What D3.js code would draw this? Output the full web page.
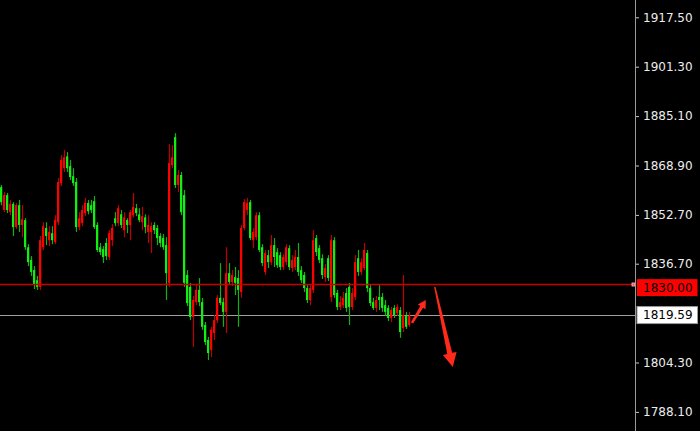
<!DOCTYPE html>
<html>
<head>
<meta charset="utf-8">
<script src="https://cdn.jsdelivr.net/npm/d3@7/dist/d3.min.js"></script>
<style>
html,body{margin:0;padding:0;background:#000;}
svg{display:block;}
</style>
</head>
<body>
<svg id="chart" width="700" height="431"></svg>
<script>
// ---- data ----
const open = [1861.8,1854.3,1859.2,1853.6,1856.3,1848.7,1855.9,1849.4,1851.0,1842.1,
1837.9,1834.6,1831.3,1829.1,1842.1,1848.4,1844.4,1846.7,1843.8,1850.3,
1863.1,1868.0,1871.9,1868.7,1865.4,1863.5,1848.7,1850.0,1853.3,1856.6,
1855.9,1857.2,1849.4,1842.1,1841.5,1843.5,1838.9,1844.4,1851.6,1850.0,
1852.9,1847.7,1851.0,1849.4,1852.6,1854.9,1852.9,1850.3,1851.9,1847.1,
1847.1,1849.4,1848.4,1845.8,1845.1,1842.8,1830.4,1869.0,1878.2,1862.5,
1865.8,1859.2,1833.0,1829.1,1819.2,1824.1,1828.1,1824.1,1816.6,1811.7,
1808.4,1814.0,1818.2,1825.5,1824.1,1820.9,1833.6,1830.7,1832.3,1832.0,
1827.4,1848.4,1854.3,1856.9,1844.4,1845.4,1852.6,1842.1,1834.0,1839.5,
1837.2,1842.8,1840.5,1839.5,1835.6,1837.2,1841.8,1835.3,1835.6,1838.9,
1834.6,1833.0,1828.7,1824.8,1828.1,1845.1,1841.8,1838.5,1832.3,1838.5,
1825.8,1844.4,1827.1,1822.5,1823.1,1827.1,1829.1,1822.5,1825.8,1838.5,
1834.0,1835.3,1840.2,1828.7,1824.1,1822.2,1825.8,1825.8,1823.1,1822.2,
1818.9,1822.2,1820.5,1821.5,1815.6,1819.9,1816.6];
const high = [1862.5,1860.2,1859.9,1857.6,1856.9,1856.6,1857.6,1855.9,1851.6,1843.1,
1839.2,1835.9,1832.7,1845.8,1850.3,1850.3,1849.0,1849.0,1852.6,1864.8,
1872.3,1874.0,1873.3,1870.7,1868.0,1864.8,1853.6,1855.9,1858.3,1857.6,
1857.6,1858.9,1850.3,1843.5,1842.5,1845.1,1847.7,1849.7,1853.6,1855.9,
1854.3,1853.6,1851.6,1854.3,1859.9,1856.3,1854.9,1855.3,1852.9,1852.6,
1850.3,1850.3,1849.4,1846.7,1846.4,1845.4,1875.9,1875.6,1879.5,1867.4,
1866.8,1860.9,1834.6,1830.4,1826.1,1829.7,1832.0,1825.5,1817.6,1812.7,
1816.0,1819.9,1826.4,1836.9,1825.5,1842.1,1836.9,1834.6,1835.6,1834.6,
1849.4,1857.9,1858.3,1857.6,1848.4,1853.6,1853.6,1843.1,1841.2,1841.2,
1846.1,1845.1,1841.8,1840.5,1839.8,1843.1,1842.8,1839.5,1841.2,1843.5,
1835.9,1834.0,1829.7,1829.7,1847.7,1846.1,1842.8,1839.8,1836.6,1839.5,
1846.1,1845.4,1828.1,1826.1,1827.4,1828.7,1830.4,1828.7,1839.5,1841.2,
1838.5,1843.5,1841.2,1829.7,1825.5,1826.1,1829.7,1827.1,1824.8,1823.1,
1822.5,1823.1,1823.4,1822.5,1833.0,1820.9,1820.9];
const low = [1855.9,1853.6,1853.3,1852.6,1845.8,1848.1,1847.1,1845.4,1841.2,1835.9,
1832.7,1828.4,1828.1,1828.1,1841.2,1842.8,1842.5,1843.1,1843.1,1849.4,
1862.2,1866.8,1866.8,1864.1,1862.2,1847.1,1847.7,1849.0,1852.3,1852.9,
1853.3,1848.1,1840.5,1839.5,1836.9,1837.9,1837.9,1842.5,1849.0,1849.0,
1848.4,1845.4,1846.7,1844.4,1851.9,1852.3,1850.3,1847.7,1846.7,1843.5,
1840.2,1846.4,1842.8,1842.1,1841.2,1824.8,1829.1,1868.0,1861.5,1860.2,
1852.6,1829.1,1822.8,1818.2,1809.4,1823.1,1822.8,1815.0,1810.0,1805.1,
1806.1,1811.7,1817.3,1823.1,1816.0,1814.0,1829.7,1829.4,1826.4,1816.0,
1825.5,1847.7,1852.6,1844.4,1841.8,1844.4,1840.5,1835.9,1833.0,1835.3,
1836.2,1835.6,1835.3,1834.6,1834.6,1836.2,1834.6,1834.0,1834.6,1832.7,
1830.4,1827.4,1823.8,1823.1,1827.1,1839.2,1836.9,1831.7,1830.7,1831.0,
1824.1,1825.5,1821.5,1821.5,1822.2,1820.9,1816.6,1821.5,1824.8,1832.7,
1833.0,1834.6,1827.4,1822.8,1821.5,1820.9,1821.5,1820.9,1819.6,1817.9,
1817.6,1818.9,1819.6,1812.4,1814.3,1815.3,1816.0];
const close = [1856.9,1859.2,1854.3,1856.3,1848.7,1855.9,1849.4,1851.3,1842.1,1837.2,
1834.0,1829.7,1829.1,1844.4,1849.0,1845.8,1847.1,1844.4,1851.0,1863.5,
1870.7,1871.6,1868.0,1865.1,1863.1,1848.7,1851.6,1854.3,1856.6,1853.9,
1854.3,1848.7,1841.2,1840.5,1838.9,1839.2,1846.7,1848.4,1850.0,1854.9,
1849.4,1851.9,1849.4,1853.6,1855.3,1853.3,1851.0,1852.3,1848.7,1849.4,
1849.0,1847.7,1845.1,1843.5,1842.1,1833.6,1869.7,1871.6,1862.5,1865.8,
1853.6,1830.4,1823.8,1819.2,1824.8,1828.1,1824.1,1816.0,1811.0,1807.4,
1815.0,1818.2,1825.5,1823.8,1820.9,1833.6,1830.7,1833.0,1830.4,1828.1,
1848.4,1856.9,1856.6,1845.1,1847.1,1852.6,1841.2,1836.9,1840.2,1837.2,
1842.8,1838.9,1836.2,1835.6,1838.9,1842.1,1835.6,1837.9,1838.9,1834.0,
1831.3,1828.7,1824.8,1828.7,1844.4,1840.5,1837.9,1833.0,1835.3,1832.0,
1844.4,1826.4,1822.5,1824.1,1825.5,1822.2,1822.5,1827.1,1837.2,1834.0,
1837.2,1841.2,1828.7,1823.8,1822.2,1824.8,1824.8,1822.2,1820.9,1818.9,
1821.5,1819.9,1822.5,1814.3,1819.9,1816.0,1819.59];

const tickValues = [1917.50, 1901.30, 1885.10, 1868.90, 1852.70, 1836.70, 1804.30, 1788.10];
const levelPrice = 1830.00;    // red horizontal level
const lastPrice = 1819.59;     // current price line
// annotation arrows in (bar index, price)
const arrowUp = [[137.0, 1817.3], [141.6, 1824.8]];
const arrowDown = [[144.6, 1829.1], [150.6, 1802.8]];

// ---- layout ----
const W = 700, H = 431, axisX = 635.5;
const svg = d3.select('#chart');
svg.append('rect').attr('width', W).attr('height', H).attr('fill', '#000');

const n = close.length;
const bars = d3.range(n).map(i => ({i, o: open[i], h: high[i], l: low[i], c: close[i]}));

const x = d3.scaleLinear().domain([0, n - 1]).range([1, 1 + 3 * (n - 1)]);
const y = d3.scaleLinear().domain([1917.5, 1788.1]).range([17.3, 411.9]);

const UP_BODY = '#ff0000', UP_WICK = '#c00000';
const DN_BODY = '#10f010', DN_WICK = '#14b014';

// current price line
svg.append('line')
  .attr('x1', 0).attr('x2', axisX)
  .attr('y1', Math.round(y(lastPrice)) - 0.5).attr('y2', Math.round(y(lastPrice)) - 0.5)
  .attr('stroke', '#a0a0a0').attr('stroke-width', 1.2);

// candles
const g = svg.append('g');
g.selectAll('rect.wick').data(bars).join('rect')
  .attr('class', 'wick')
  .attr('x', d => x(d.i) - 0.1)
  .attr('width', 1.2)
  .attr('y', d => y(d.h))
  .attr('height', d => Math.max(1, y(d.l) - y(d.h)))
  .attr('fill', d => d.c >= d.o ? UP_WICK : DN_WICK);

g.selectAll('rect.body').data(bars).join('rect')
  .attr('class', 'body')
  .attr('x', d => x(d.i) - 1)
  .attr('width', 2.2)
  .attr('y', d => y(Math.max(d.o, d.c)))
  .attr('height', d => Math.max(1, Math.abs(y(d.o) - y(d.c))))
  .attr('fill', d => d.c >= d.o ? UP_BODY : DN_BODY);

// red level line
const ly = Math.round(y(levelPrice)) + 0.5;
svg.append('line')
  .attr('x1', 0).attr('x2', axisX - 3)
  .attr('y1', ly).attr('y2', ly)
  .attr('stroke', '#c80000').attr('stroke-width', 1.5);
svg.append('rect')
  .attr('x', axisX - 3.5).attr('y', ly - 1.5).attr('width', 3).attr('height', 3)
  .attr('fill', '#ff4040').attr('stroke', '#ffd0d0').attr('stroke-width', 0.8);

// arrows
function arrowPath(p0, p1, tailW, shaftW, headW, headL) {
  const x0 = x(p0[0]), y0 = y(p0[1]), x1 = x(p1[0]), y1 = y(p1[1]);
  const dx = x1 - x0, dy = y1 - y0, len = Math.hypot(dx, dy);
  const ux = dx / len, uy = dy / len, nx = -uy, ny = ux;
  const bx = x1 - ux * headL, by = y1 - uy * headL;
  const pts = [
    [x0 + nx * tailW / 2, y0 + ny * tailW / 2],
    [bx + nx * shaftW / 2, by + ny * shaftW / 2],
    [bx + nx * headW / 2, by + ny * headW / 2],
    [x1, y1],
    [bx - nx * headW / 2, by - ny * headW / 2],
    [bx - nx * shaftW / 2, by - ny * shaftW / 2],
    [x0 - nx * tailW / 2, y0 - ny * tailW / 2]
  ];
  return 'M' + pts.map(p => p.join(',')).join('L') + 'Z';
}
svg.append('path').attr('d', arrowPath(arrowUp[0], arrowUp[1], 2.6, 3.2, 9, 8))
  .attr('fill', '#ff2a1a');
svg.append('path').attr('d', arrowPath(arrowDown[0], arrowDown[1], 1.4, 5, 14, 14))
  .attr('fill', '#ff2a1a');

// right axis
svg.append('line')
  .attr('x1', axisX).attr('x2', axisX).attr('y1', 0).attr('y2', H)
  .attr('stroke', '#9a9a9a').attr('stroke-width', 1);

const axis = d3.axisRight(y).tickValues(tickValues).tickFormat(d3.format('.2f'))
  .tickSize(3).tickPadding(4);
const ag = svg.append('g').attr('transform', `translate(${axisX + 0.5},0)`).call(axis);
ag.select('.domain').remove();
ag.selectAll('line').attr('stroke', '#c8c8c8');
ag.selectAll('text')
  .attr('fill', '#ececec')
  .style('font-family', '"DejaVu Sans", Verdana, sans-serif')
  .style('font-size', '12px');

// price labels
function priceLabel(price, bg, fg, dyOff, border) {
  const cy = y(price) + dyOff;
  svg.append('rect')
    .attr('x', axisX + 1.5).attr('y', cy - 8.5).attr('width', 60.5).attr('height', 17)
    .attr('fill', bg).attr('stroke', border || 'none').attr('stroke-width', 1);
  svg.append('text')
    .attr('x', axisX + 7.5).attr('y', cy).attr('dy', '0.36em')
    .attr('fill', fg)
    .style('font-family', '"DejaVu Sans", Verdana, sans-serif')
    .style('font-size', '12px')
    .text(d3.format('.2f')(price));
}
priceLabel(levelPrice, '#ff0000', '#000', 3.5, null);
priceLabel(lastPrice, '#ffffff', '#000', -0.8, '#9a9a9a');
</script>
</body>
</html>
